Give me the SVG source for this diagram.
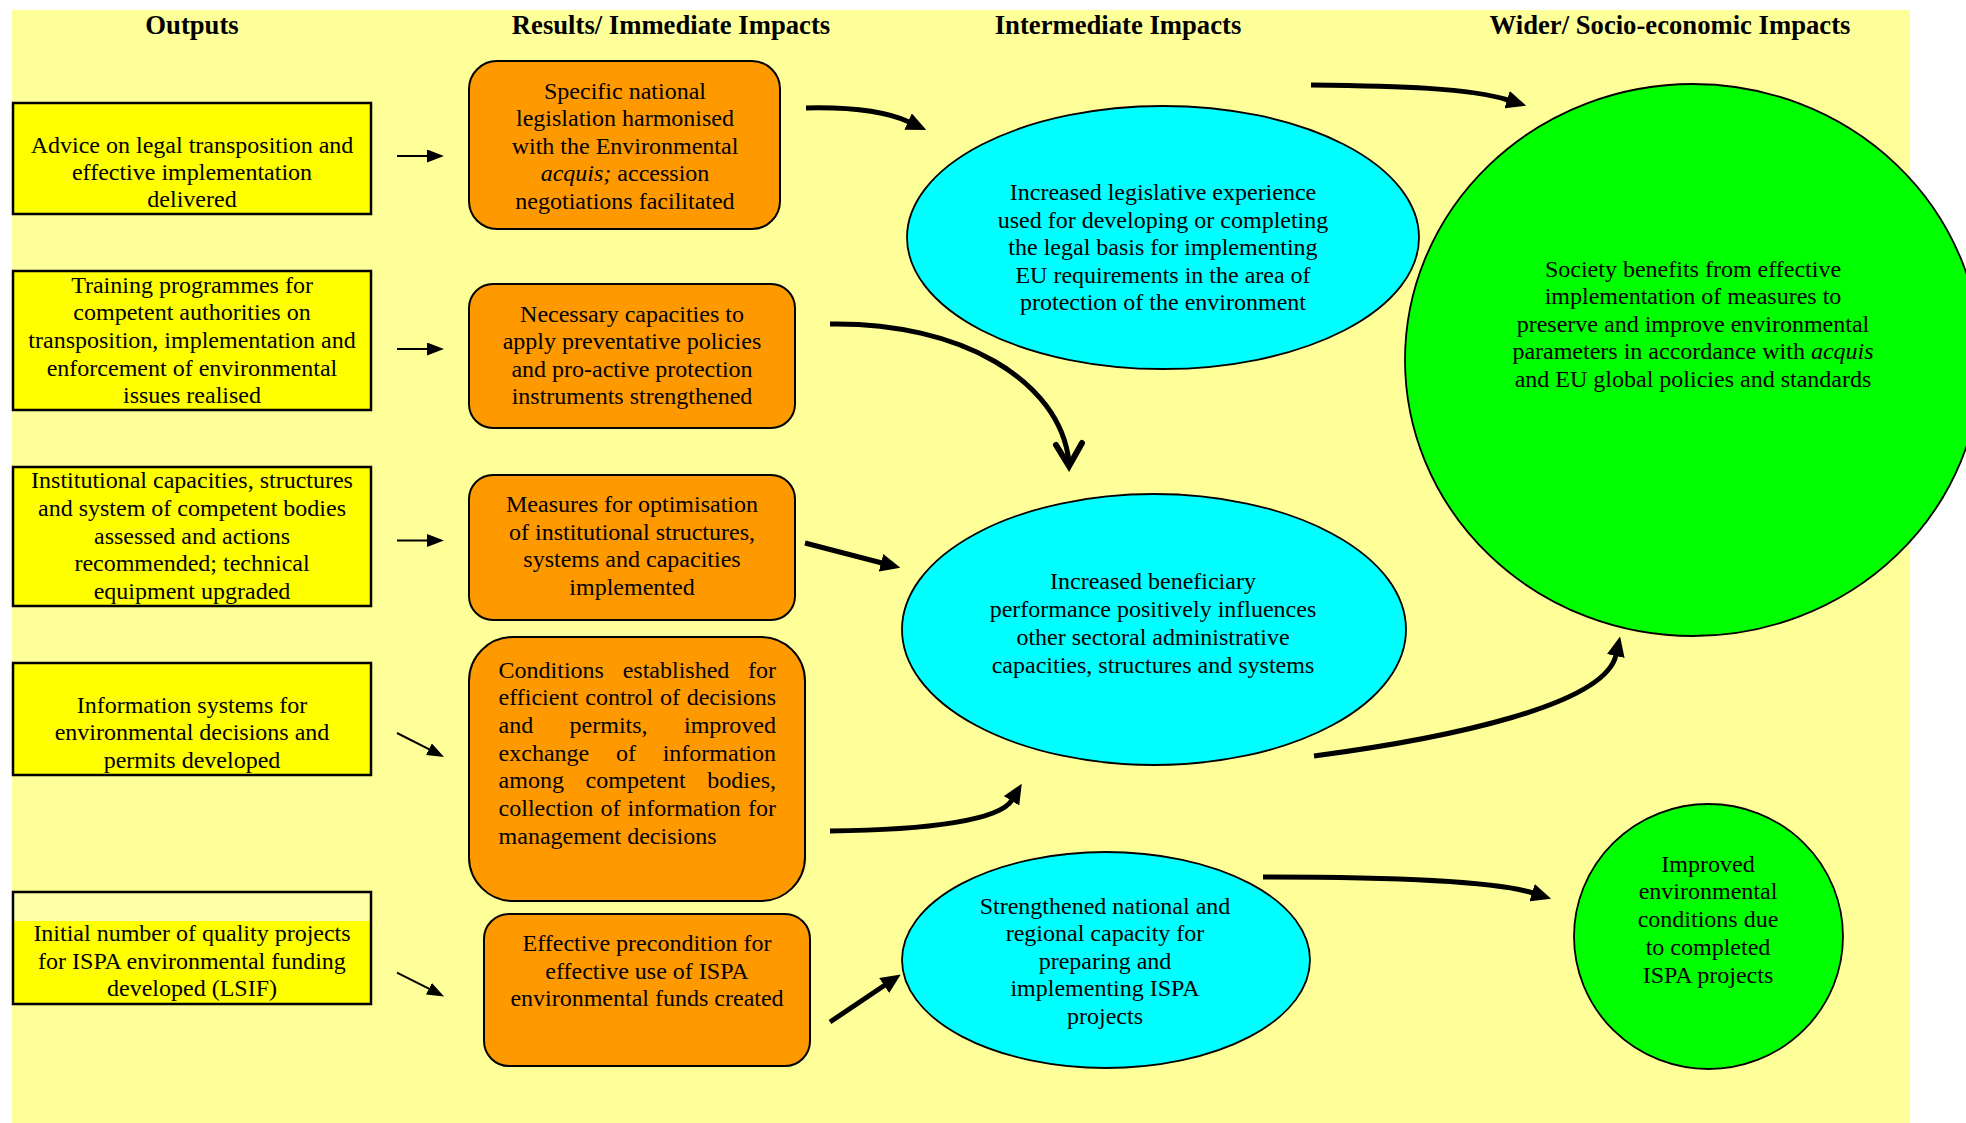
<svg xmlns="http://www.w3.org/2000/svg" width="1966" height="1123" viewBox="0 0 1966 1123">
<defs>
<style>
text{font-family:"Liberation Serif","Times New Roman",serif;font-size:24px;fill:#000}
.h{font-weight:bold;font-size:26.67px;text-anchor:middle}
.c{text-anchor:middle}
.e{text-anchor:end}
.i{font-style:italic}
.yb{fill:#FFFF00;stroke:#000;stroke-width:2.5}
.ob{fill:#FF9900;stroke:#000;stroke-width:2}
.cy{fill:#00FFFF;stroke:#000;stroke-width:1.8}
.gr{fill:#00FF00;stroke:#000;stroke-width:1.8}
.thin{fill:none;stroke:#000;stroke-width:2;marker-end:url(#hs)}
.thick{fill:none;stroke:#000;stroke-width:5;marker-end:url(#hb)}
</style>
<marker id="hs" markerUnits="userSpaceOnUse" markerWidth="17" markerHeight="13" refX="1" refY="6.5" orient="auto" viewBox="0 0 17 13"><path d="M0,0 L17,6.5 L0,13 z" fill="#000"/></marker>
<marker id="hb" markerUnits="userSpaceOnUse" markerWidth="20" markerHeight="18" refX="1" refY="9" orient="auto" viewBox="0 0 20 18"><path d="M0,0 L20,9 L0,18 z" fill="#000"/></marker>
</defs>
<rect width="1966" height="1123" fill="#FFFFFF"/>
<rect x="12" y="10" width="1898" height="1113" fill="#FFFF99"/>

<g id="headers">
<text class="h" x="192" y="34">Outputs</text>
<text class="h" x="671" y="34">Results/ Immediate Impacts</text>
<text class="h" x="1118" y="34">Intermediate Impacts</text>
<text class="h" x="1670" y="34">Wider/ Socio-economic Impacts</text>
</g>

<g id="out1">
<rect class="yb" x="13" y="103" width="358" height="111"/>
<text class="c" x="192" y="153">Advice on legal transposition and</text>
<text class="c" x="192" y="180">effective implementation</text>
<text class="c" x="192" y="207">delivered</text>
</g>
<g id="out2">
<rect class="yb" x="13" y="271" width="358" height="139"/>
<text class="c" x="192" y="293">Training programmes for</text>
<text class="c" x="192" y="320">competent authorities on</text>
<text class="c" x="192" y="348">transposition, implementation and</text>
<text class="c" x="192" y="376">enforcement of environmental</text>
<text class="c" x="192" y="403">issues realised</text>
</g>
<g id="out3">
<rect class="yb" x="13" y="467" width="358" height="139"/>
<text class="c" x="192" y="488">Institutional capacities, structures</text>
<text class="c" x="192" y="516">and system of competent bodies</text>
<text class="c" x="192" y="544">assessed and actions</text>
<text class="c" x="192" y="571">recommended; technical</text>
<text class="c" x="192" y="599">equipment upgraded</text>
</g>
<g id="out4">
<rect class="yb" x="13" y="663" width="358" height="112"/>
<text class="c" x="192" y="713">Information systems for</text>
<text class="c" x="192" y="740">environmental decisions and</text>
<text class="c" x="192" y="768">permits developed</text>
</g>
<g id="out5">
<rect x="13" y="892" width="358" height="112" fill="#FFFFA8"/>
<rect x="13" y="921" width="358" height="83" fill="#FFFF00"/>
<rect x="13" y="892" width="358" height="112" fill="none" stroke="#000" stroke-width="2.5"/>
<text class="c" x="192" y="941">Initial number of quality projects</text>
<text class="c" x="192" y="969">for ISPA environmental funding</text>
<text class="c" x="192" y="996">developed (LSIF)</text>
</g>

<g id="res1">
<rect class="ob" x="469" y="61" width="311" height="168" rx="28" ry="28"/>
<text class="c" x="625" y="99">Specific national</text>
<text class="c" x="625" y="126">legislation harmonised</text>
<text class="c" x="625" y="154">with the Environmental</text>
<text class="c" x="625" y="181"><tspan class="i">acquis;</tspan> accession</text>
<text class="c" x="625" y="209">negotiations facilitated</text>
</g>
<g id="res2">
<rect class="ob" x="469" y="284" width="326" height="144" rx="24" ry="24"/>
<text class="c" x="632" y="322">Necessary capacities to</text>
<text class="c" x="632" y="349">apply preventative policies</text>
<text class="c" x="632" y="377">and pro-active protection</text>
<text class="c" x="632" y="404">instruments strengthened</text>
</g>
<g id="res3">
<rect class="ob" x="469" y="475" width="326" height="145" rx="24" ry="24"/>
<text class="c" x="632" y="512">Measures for optimisation</text>
<text class="c" x="632" y="540">of institutional structures,</text>
<text class="c" x="632" y="567">systems and capacities</text>
<text class="c" x="632" y="595">implemented</text>
</g>
<g id="res4">
<rect class="ob" x="469" y="637" width="336" height="264" rx="44" ry="44"/>
<text x="498.6" y="678">Conditions</text><text x="622.7" y="678">established</text><text class="e" x="776" y="678">for</text>
<text x="498.6" y="705">efficient</text><text x="585.3" y="705">control</text><text x="660" y="705">of</text><text class="e" x="776" y="705">decisions</text>
<text x="498.6" y="733">and</text><text x="569.6" y="733">permits,</text><text class="e" x="776" y="733">improved</text>
<text x="498.6" y="761">exchange</text><text x="616" y="761">of</text><text class="e" x="776" y="761">information</text>
<text x="498.6" y="788">among</text><text x="585.6" y="788">competent</text><text class="e" x="776" y="788">bodies,</text>
<text x="498.6" y="816">collection</text><text x="600.4" y="816">of</text><text x="627.5" y="816">information</text><text class="e" x="776" y="816">for</text>
<text x="498.6" y="844">management decisions</text>
</g>
<g id="res5">
<rect class="ob" x="484" y="914" width="326" height="152" rx="25" ry="25"/>
<text class="c" x="647" y="951">Effective precondition for</text>
<text class="c" x="647" y="979">effective use of ISPA</text>
<text class="c" x="647" y="1006">environmental funds created</text>
</g>

<g id="int1">
<ellipse class="cy" cx="1163" cy="237.5" rx="256" ry="131.5"/>
<text class="c" x="1163" y="200">Increased legislative experience</text>
<text class="c" x="1163" y="228">used for developing or completing</text>
<text class="c" x="1163" y="255">the legal basis for implementing</text>
<text class="c" x="1163" y="283">EU requirements in the area of</text>
<text class="c" x="1163" y="310">protection of the environment</text>
</g>
<g id="int2">
<ellipse class="cy" cx="1154" cy="629.5" rx="252" ry="135.5"/>
<text class="c" x="1153" y="589">Increased beneficiary</text>
<text class="c" x="1153" y="617">performance positively influences</text>
<text class="c" x="1153" y="645">other sectoral administrative</text>
<text class="c" x="1153" y="673">capacities, structures and systems</text>
</g>
<g id="int3">
<ellipse class="cy" cx="1106" cy="960" rx="204" ry="108"/>
<text class="c" x="1105" y="914">Strengthened national and</text>
<text class="c" x="1105" y="941">regional capacity for</text>
<text class="c" x="1105" y="969">preparing and</text>
<text class="c" x="1105" y="996">implementing ISPA</text>
<text class="c" x="1105" y="1024">projects</text>
</g>

<g id="wid1">
<ellipse class="gr" cx="1693" cy="360" rx="288" ry="276"/>
<text class="c" x="1693" y="277">Society benefits from effective</text>
<text class="c" x="1693" y="304">implementation of measures to</text>
<text class="c" x="1693" y="332">preserve and improve environmental</text>
<text class="c" x="1693" y="359">parameters in accordance with <tspan class="i">acquis</tspan></text>
<text class="c" x="1693" y="387">and EU global policies and standards</text>
</g>
<g id="wid2">
<ellipse class="gr" cx="1708.5" cy="936.5" rx="134.5" ry="132.5"/>
<text class="c" x="1708" y="872">Improved</text>
<text class="c" x="1708" y="899">environmental</text>
<text class="c" x="1708" y="927">conditions due</text>
<text class="c" x="1708" y="955">to completed</text>
<text class="c" x="1708" y="983">ISPA projects</text>
</g>

<g id="connectors">
<path class="thin" d="M397,156 L428,156"/>
<path class="thin" d="M397,349 L428,349"/>
<path class="thin" d="M397,540.5 L428,540.5"/>
<path class="thin" d="M397,733 L429.8,749.7"/>
<path class="thin" d="M397,972.6 L429.8,989.2"/>
<path class="thick" d="M806,108 C850,107 885,111 909,122"/>
<path d="M830,324 C960,322 1060,380 1069,462" fill="none" stroke="#000" stroke-width="5"/>
<path d="M1056,445 L1069,466 L1082,443" fill="none" stroke="#000" stroke-width="6" stroke-linecap="round" stroke-linejoin="miter"/>
<path class="thick" d="M805,543 L882,563"/>
<path class="thick" d="M830,831 C930,830 1000,820 1012,800"/>
<path class="thick" d="M830,1022 L885,985"/>
<path class="thick" d="M1311,85 C1400,86 1470,88 1508,100"/>
<path class="thick" d="M1314,756 C1450,738 1605,705 1616,655"/>
<path class="thick" d="M1263,877 C1380,877 1495,881 1533,893"/>
</g>
</svg>
